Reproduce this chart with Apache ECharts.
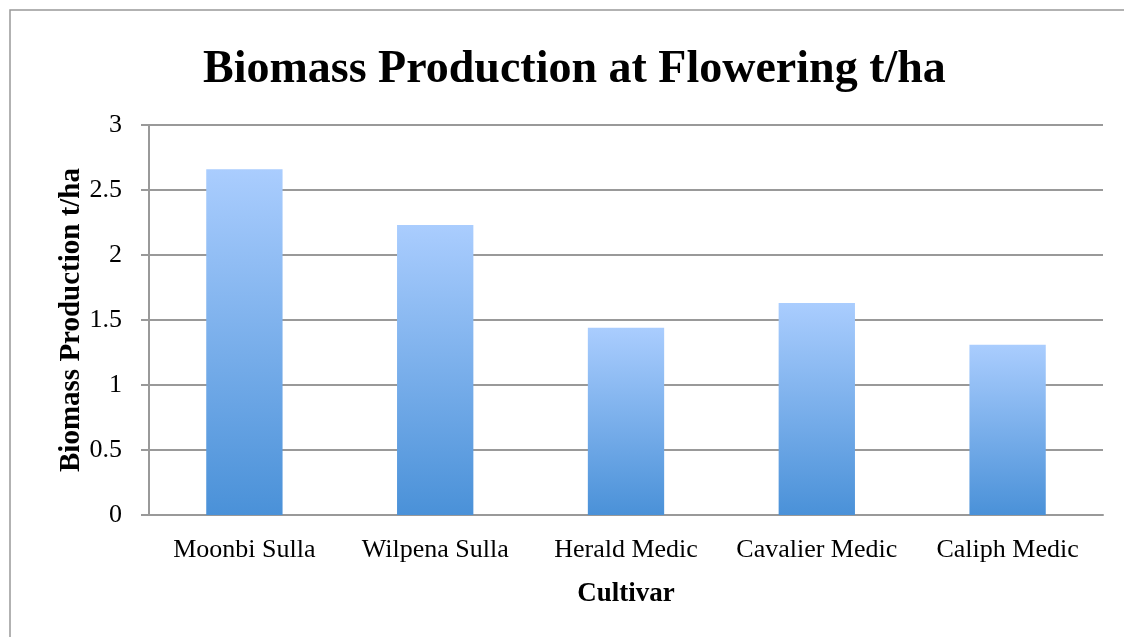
<!DOCTYPE html>
<html>
<head>
<meta charset="utf-8">
<script src="https://cdn.jsdelivr.net/npm/echarts@6/dist/echarts.min.js"></script>
<style>
  html, body { margin: 0; padding: 0; background: #fff; }
  #chart { width: 1124px; height: 637px; }
</style>
</head>
<body>
<div id="chart"></div>
<script>
const cultivars = ['Moonbi Sulla', 'Wilpena Sulla', 'Herald Medic', 'Cavalier Medic', 'Caliph Medic'];
const biomass = [2.66, 2.23, 1.44, 1.63, 1.31];

const serif = '"Liberation Serif", "DejaVu Serif", serif';

const myChart = echarts.init(document.getElementById('chart'));

const option = {
  backgroundColor: '#fff',
  title: {
    text: 'Biomass Production at Flowering t/ha',
    left: 198,
    top: 42,
    textStyle: { fontFamily: serif, fontSize: 46, fontWeight: 'bold', color: '#000' }
  },
  graphic: [
    {
      type: 'rect',
      shape: { x: 10, y: 10, width: 1200, height: 700 },
      style: { fill: 'none', stroke: '#999', lineWidth: 1.5 },
      silent: true
    }
  ],
  grid: { left: 149, right: 21, top: 125, bottom: 122 },
  xAxis: {
    type: 'category',
    data: cultivars,
    name: 'Cultivar',
    nameLocation: 'middle',
    nameGap: 66,
    nameMoveOverlap: false,
    nameTextStyle: { fontFamily: serif, fontSize: 27, fontWeight: 'bold', color: '#000' },
    axisLine: { lineStyle: { color: '#999', width: 2 } },
    axisTick: { show: false },
    axisLabel: { interval: 0, fontFamily: serif, fontSize: 26, color: '#000', margin: 22 }
  },
  yAxis: {
    type: 'value',
    min: 0,
    max: 3,
    interval: 0.5,
    name: 'Biomass Production t/ha',
    nameLocation: 'middle',
    nameGap: 63,
    nameMoveOverlap: false,
    nameTextStyle: { fontFamily: serif, fontSize: 29, fontWeight: 'bold', color: '#000' },
    axisLine: { show: true, lineStyle: { color: '#999', width: 2 } },
    axisTick: { show: true, length: 8, lineStyle: { color: '#999', width: 2 } },
    splitLine: { lineStyle: { color: '#999', width: 2 } },
    axisLabel: { fontFamily: serif, fontSize: 26, color: '#000', margin: 27 }
  },
  series: [
    {
      type: 'bar',
      data: biomass,
      barWidth: '40%',
      itemStyle: {
        color: new echarts.graphic.LinearGradient(0, 0, 0, 1, [
          { offset: 0, color: '#aacdfe' },
          { offset: 1, color: '#4a91d8' }
        ]),
        shadowColor: 'rgba(0,0,0,0.3)',
        shadowBlur: 5,
        shadowOffsetY: 1
      }
    }
  ]
};

myChart.setOption(option);
</script>
</body>
</html>
